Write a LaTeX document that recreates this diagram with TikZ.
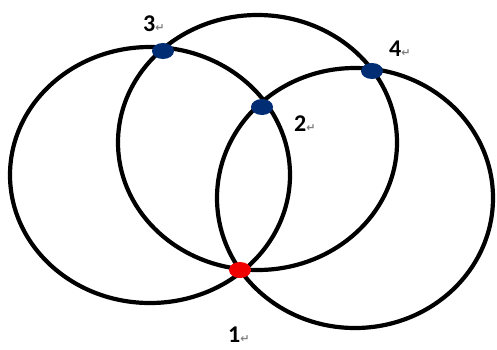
\documentclass[tikz,border=0pt]{standalone}
\usepackage{fontspec}
\setmainfont{Carlito}
\newfontfamily\symfont{DejaVu Sans}
\usepackage{xcolor}
\definecolor{dotblue}{RGB}{0,45,115}
\definecolor{dotred}{RGB}{240,0,0}
\tikzset{
  ring/.style={draw=black, line width=4.2pt},
  vtx/.style={ellipse, inner sep=0pt, minimum width=22pt, minimum height=16pt},
  lab/.style={anchor=base west, inner sep=0pt, font=\fontsize{24}{28}\selectfont\bfseries}
}
\newcommand{\retmark}{{\symfont\fontsize{11}{12}\selectfont\color{gray}↵}}
\usetikzlibrary{shapes.geometric}
\begin{document}
\begin{tikzpicture}[x=1pt, y=-1pt]
\useasboundingbox (0,0) rectangle (497,349);
% the three rings
\draw[ring] (150,175) ellipse [x radius=140, y radius=128];
\draw[ring] (257.5,142.5) ellipse [x radius=139.5, y radius=127.5];
\draw[ring] (355,198) ellipse [x radius=138, y radius=130];
% crossing points
\node[vtx, fill=dotred] (p1) at (240,270) {};
\node[vtx, fill=dotblue] (p2) at (262,107) {};
\node[vtx, fill=dotblue] (p3) at (163,51) {};
\node[vtx, fill=dotblue] (p4) at (372,71) {};
% labels
\node[lab] (l1) at (228,342) {1\retmark};
\node[lab] (l2) at (294,131) {2\retmark};
\node[lab] (l3) at (143,31) {3\retmark};
\node[lab] (l4) at (389,56) {4\retmark};
\end{tikzpicture}
\end{document}
